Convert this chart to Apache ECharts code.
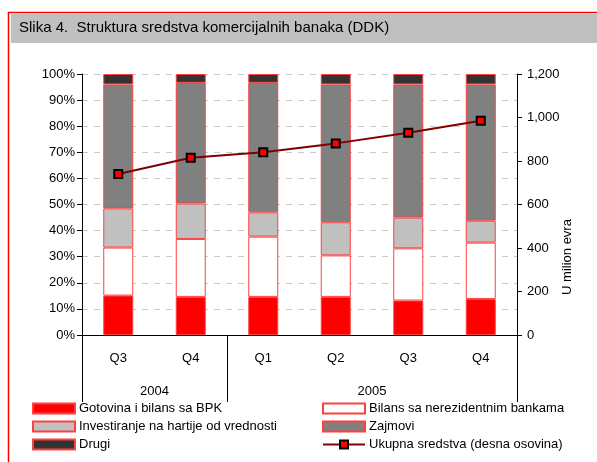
<!DOCTYPE html>
<html>
<head>
<meta charset="utf-8">
<script src="https://cdn.jsdelivr.net/npm/echarts@6/dist/echarts.min.js"></script>
<style>
  html, body { margin: 0; padding: 0; background: #fff; }
  #chart { width: 597px; height: 462px; }
</style>
</head>
<body>
<div id="chart"></div>
<script>
  // kvartali i godine
  var quarters = ['Q3', 'Q4', 'Q1', 'Q2', 'Q3', 'Q4'];
  var years = ['2004', '2005'];

  // struktura u % (procjena sa slike)
  var gotovina = [15.1, 14.6, 14.6, 14.6, 13.2, 13.8];
  var bilansNerez = [18.4, 22.2, 23.1, 15.9, 20.0, 21.6];
  var investiranje = [15.0, 13.6, 9.3, 12.7, 11.8, 8.4];
  var zajmovi = [47.5, 46.2, 49.6, 52.8, 51.0, 52.2];
  var drugi = [4.0, 3.4, 3.4, 4.0, 4.0, 4.0];
  // ukupna sredstva, milion evra
  var ukupno = [740, 815, 840, 881, 930, 985];

  var font = 'Liberation Sans, Arial, sans-serif';
  var chart = echarts.init(document.getElementById('chart'));

  function barSeries (name, data, color) {
    return {
      name: name,
      type: 'bar',
      stack: 'str',
      data: data,
      barWidth: 30,
      itemStyle: { color: color, borderColor: '#ff4040', borderWidth: 1 },
      emphasis: { disabled: true }
    };
  }

  var legendText = { fontSize: 13, fontFamily: font, color: '#000', padding: [0, 0, 0, -1] };

  var option = {
    animation: false,
    textStyle: { fontFamily: font },
    graphic: [
      {
        type: 'rect', z: -10,
        shape: { x: 8.5, y: 12.5, width: 600, height: 460 },
        style: { fill: '#fff', stroke: '#ff0000', lineWidth: 1.5 }
      },
      {
        type: 'rect', z: -9,
        shape: { x: 11, y: 14, width: 590, height: 29 },
        style: { fill: '#c0c0c0' }
      },
      {
        type: 'text', left: 19, top: 20,
        style: { text: 'Slika 4.  Struktura sredstva komercijalnih banaka (DDK)', fontSize: 15, fontFamily: font, fill: '#000' }
      },
      {
        type: 'text', x: 567, y: 257, rotation: Math.PI / 2,
        style: { text: 'U milion evra', fontSize: 13, fontFamily: font, fill: '#000', align: 'center', verticalAlign: 'middle' }
      }
    ],
    grid: { left: 82, right: 80, top: 74, bottom: 127, containLabel: false },
    legend: [
      {
        orient: 'vertical', left: 32, top: 402, padding: 0,
        itemWidth: 42, itemHeight: 10, itemGap: 5,
        textStyle: legendText,
        data: [
          { name: 'Gotovina i bilans sa BPK', icon: 'rect' },
          { name: 'Investiranje na hartije od vrednosti', icon: 'rect' },
          { name: 'Drugi', icon: 'rect' }
        ]
      },
      {
        orient: 'vertical', left: 322, top: 402, padding: 0,
        itemWidth: 42, itemHeight: 10, itemGap: 5,
        textStyle: legendText,
        data: [
          { name: 'Bilans sa nerezidentnim bankama', icon: 'rect' },
          { name: 'Zajmovi', icon: 'rect' },
          'Ukupna sredstva (desna osovina)'
        ]
      }
    ],
    xAxis: [
      {
        type: 'category',
        data: quarters,
        axisLine: { lineStyle: { color: '#000', width: 1 } },
        axisTick: { interval: 0, length: 33, lineStyle: { color: '#000' } },
        axisLabel: { interval: 0, margin: 17, fontSize: 13, color: '#000' }
      },
      {
        type: 'value', min: 0, max: 6, position: 'bottom',
        axisLine: { show: false },
        splitLine: { show: false },
        axisTick: { show: true, customValues: [0, 2, 6], length: 67, lineStyle: { color: '#000' } },
        axisLabel: {
          customValues: [1, 4], margin: 50, fontSize: 13, color: '#000',
          formatter: function (v) { return v === 1 ? years[0] : (v === 4 ? years[1] : ''); }
        }
      }
    ],
    yAxis: [
      {
        type: 'value', min: 0, max: 100, interval: 10,
        axisLine: { show: true, lineStyle: { color: '#000' } },
        axisTick: { show: true, length: 5, lineStyle: { color: '#000' } },
        axisLabel: { formatter: '{value}%', fontSize: 13, color: '#000', margin: 7 },
        splitLine: { lineStyle: { color: '#c8c8c8', type: [6, 6] } }
      },
      {
        type: 'value', min: 0, max: 1200, interval: 200, position: 'right',
        axisLine: { show: true, lineStyle: { color: '#000' } },
        axisTick: { show: true, length: 5, lineStyle: { color: '#000' } },
        axisLabel: {
          fontSize: 13, color: '#000', margin: 10,
          formatter: function (v) { return v >= 1000 ? Math.floor(v / 1000) + ',' + String(v % 1000).padStart(3, '0') : v; }
        },
        splitLine: { show: false }
      }
    ],
    series: [
      barSeries('Gotovina i bilans sa BPK', gotovina, '#ff0000'),
      barSeries('Bilans sa nerezidentnim bankama', bilansNerez, '#ffffff'),
      barSeries('Investiranje na hartije od vrednosti', investiranje, '#c0c0c0'),
      barSeries('Zajmovi', zajmovi, '#808080'),
      barSeries('Drugi', drugi, '#333333'),
      {
        name: 'Ukupna sredstva (desna osovina)',
        type: 'line',
        yAxisIndex: 1,
        data: ukupno,
        symbol: 'rect',
        symbolSize: 8,
        lineStyle: { color: '#800000', width: 2 },
        itemStyle: { color: '#ff0000', borderColor: '#000', borderWidth: 2 },
        emphasis: { disabled: true },
        z: 5
      }
    ]
  };

  chart.setOption(option);
</script>
</body>
</html>
